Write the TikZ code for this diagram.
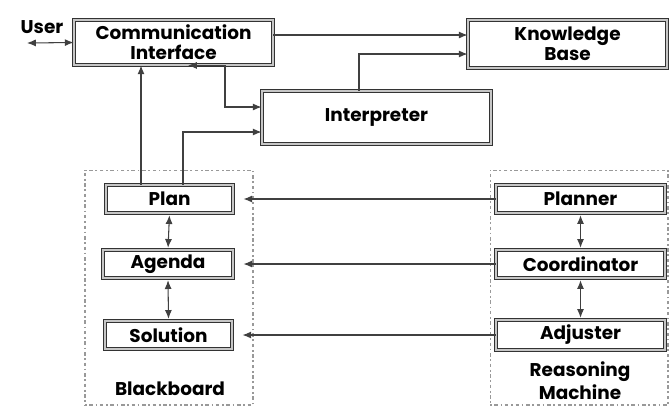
\documentclass[tikz,border=0pt]{standalone}
\usepackage{fontspec}
\setmainfont{Poppins}
\usetikzlibrary{arrows.meta}

\tikzset{
  box/.style={draw=black!80, line width=0.5pt, double=gray!45, double distance=1.3pt,
    inner sep=0pt, align=center, font=\bfseries\fontsize{10.5}{11.5}\selectfont},
  panel/.style={draw=gray!80, dash pattern=on 1pt off 1.5pt on 2pt off 1.5pt, line width=0.6pt, inner sep=0pt},
  arr/.style={-{Latex[length=5pt,width=4pt]}, draw=black!75, line width=0.6pt},
  darr/.style={{Latex[length=5pt,width=4pt]}-{Latex[length=5pt,width=4pt]}, draw=black!75, line width=0.6pt},
  lbl/.style={align=center, font=\bfseries\fontsize{10.5}{13}\selectfont}
}

\begin{document}
\begin{tikzpicture}[x=0.02cm, y=-0.02cm]
    \useasboundingbox (0,0) rectangle (671,407);

    % Containers
    \node[panel, minimum width=3.36cm, minimum height=4.7cm] (bb) at (169,287.5) {};
    \node[panel, minimum width=3.56cm, minimum height=4.7cm] (rm) at (579,287.5) {};
    \node[lbl] (bblbl) at (170,389) {Blackboard};
    \node[lbl] (rmlbl) at (580,381) {Reasoning\\Machine};

    % Top row
    \node[box, minimum width=3.98cm, minimum height=0.9cm] (comm) at (173.5,42.5) {Communication\\Interface};
    \node[box, minimum width=3.98cm, minimum height=0.96cm] (kb) at (567.5,44) {Knowledge\\Base};
    \node[box, minimum width=4.58cm, minimum height=1.06cm] (interp) at (376.5,117.5) {Interpreter};
    \node[lbl] (user) at (42,27) {User};
    \coordinate (uend) at (27,43);

    % Blackboard entries
    \node[box, minimum width=2.54cm, minimum height=0.56cm] (plan) at (169.5,199) {Plan};
    \node[box, minimum width=2.6cm, minimum height=0.56cm] (agenda) at (168,264) {Agenda};
    \node[box, minimum width=2.54cm, minimum height=0.56cm] (solution) at (168.5,335) {Solution};

    % Reasoning machine entries
    \node[box, minimum width=3.38cm, minimum height=0.56cm] (planner) at (580.5,199) {Planner};
    \node[box, minimum width=3.38cm, minimum height=0.56cm] (coord) at (580.5,264) {Coordinator};
    \node[box, minimum width=3.38cm, minimum height=0.6cm] (adjuster) at (580.5,335) {Adjuster};

    % Connectors
    \draw[darr] (uend) -- (comm.west);
    \draw[arr] ([yshift=0.18cm]kb.west -| comm.east) -- ([yshift=0.18cm]kb.west);
    \draw[arr] ([xshift=-0.35cm]interp.north) |- ([yshift=-0.2cm]kb.west);
    \draw[darr] ([xshift=0.29cm]comm.south) -- ([xshift=1.03cm]comm.south) |- ([yshift=0.21cm]interp.west);
    \draw[arr] ([xshift=-0.57cm]plan.north) -- ([xshift=-0.57cm]plan.north |- comm.south);
    \draw[arr] ([xshift=0.27cm]plan.north) |- ([yshift=-0.29cm]interp.west);

    \draw[darr, shorten <=1pt, shorten >=1pt] (plan.south) -- (agenda.north);
    \draw[darr, shorten <=1pt, shorten >=1pt] (agenda.south) -- (solution.north);
    \draw[darr, shorten <=1pt, shorten >=1pt] (planner.south) -- (coord.north);
    \draw[darr, shorten <=1pt, shorten >=1pt] (coord.south) -- (adjuster.north);

    \draw[arr, shorten >=0.2cm] (planner.west) -- (planner.west -| plan.east);
    \draw[arr, shorten >=0.2cm] (coord.west) -- (coord.west -| agenda.east);
    \draw[arr, shorten >=0.2cm] (adjuster.west) -- (adjuster.west -| solution.east);
\end{tikzpicture}
\end{document}
